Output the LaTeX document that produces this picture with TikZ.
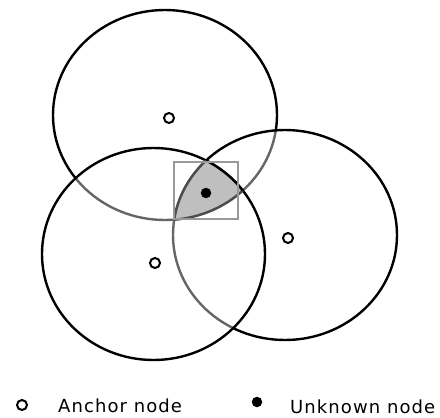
\documentclass[tikz,border=0pt]{standalone}
\usepackage{fontspec}
\setmainfont{DejaVu Sans}
\newfontfamily\legendfont[LetterSpace=6]{DejaVu Sans}
\begin{document}
\begin{tikzpicture}[x=1pt,y=-1pt,
  ring/.style={draw=black,line width=2.4pt,fill=white,fill opacity=0.4},
  edge/.style={draw=black!70,line width=2.4pt},
  anchornode/.style={circle,draw=black,line width=2pt,fill=white,inner sep=0pt,minimum size=10pt},
  unknownnode/.style={circle,fill=black,inner sep=0pt,minimum size=10.5pt},
  legendtext/.style={font=\legendfont\fontsize{18}{20}\selectfont,anchor=base west,inner sep=0pt}]
\useasboundingbox (0,0) rectangle (440,418);
\def\ringA{(165,115) ellipse [x radius=112pt, y radius=105pt]}
\def\ringB{(285,235) ellipse [x radius=112pt, y radius=105pt]}
\def\ringC{(153.5,254) ellipse [x radius=111.5pt, y radius=106pt]}
% circles, later ones veil earlier strokes
\path[ring] \ringA;
\path[ring] \ringB;
\path[ring] \ringC;
% shaded intersection
\begin{scope}
  \clip \ringA; \clip \ringB; \clip \ringC;
  \fill[black!25] (150,140) rectangle (260,240);
\end{scope}
% intersection borders
\begin{scope}
  \clip \ringB; \clip \ringC;
  \path[edge] \ringA;
\end{scope}
\begin{scope}
  \clip \ringA; \clip \ringC;
  \path[edge] \ringB;
\end{scope}
\begin{scope}
  \clip \ringA; \clip \ringB;
  \path[draw=black,line width=2.4pt] \ringC;
\end{scope}
% search box
\node[draw=black!40,line width=1.5pt,inner sep=0pt,minimum width=64pt,minimum height=57pt] (box) at (206,190.5) {};
% nodes
\node[anchornode] (a1) at (169,118) {};
\node[anchornode] (a2) at (288,238) {};
\node[anchornode] (a3) at (155,263) {};
\node[unknownnode] (u) at (206,193) {};
% legend
\node[anchornode] (la) at (22,405) {};
\node[legendtext] (lat) at (58,412) {Anchor node};
\node[unknownnode] (lu) at (257,402) {};
\node[legendtext] (lut) at (290,413) {Unknown node};
\end{tikzpicture}
\end{document}
